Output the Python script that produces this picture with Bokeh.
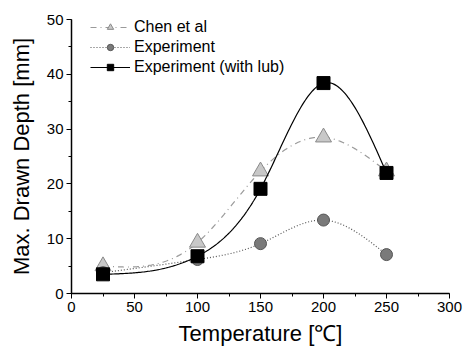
import numpy as np
from bokeh.plotting import figure
from bokeh.models import Legend, LegendItem, Range1d, FixedTicker
from bokeh.embed import file_html
from bokeh.resources import INLINE

temperature = [25, 100, 150, 200, 250]
chen = [5.0, 9.3, 22.3, 28.5, 22.3]
experiment = [3.8, 6.2, 9.1, 13.4, 7.1]
experiment_lub = [3.5, 6.8, 19.1, 38.4, 22.0]

x_ticks = [0, 50, 100, 150, 200, 250, 300]
y_ticks = [0, 10, 20, 30, 40, 50]


def natural_spline(x, y, n=200):
    x = np.asarray(x, float)
    y = np.asarray(y, float)
    k = len(x)
    h = np.diff(x)
    A = np.zeros((k, k))
    b = np.zeros(k)
    A[0, 0] = 1
    A[-1, -1] = 1
    for i in range(1, k - 1):
        A[i, i - 1] = h[i - 1]
        A[i, i] = 2 * (h[i - 1] + h[i])
        A[i, i + 1] = h[i]
        b[i] = 6 * ((y[i + 1] - y[i]) / h[i] - (y[i] - y[i - 1]) / h[i - 1])
    M = np.linalg.solve(A, b)
    xs = np.linspace(x[0], x[-1], n)
    ys = np.empty_like(xs)
    for j, xv in enumerate(xs):
        i = min(np.searchsorted(x, xv, side="right") - 1, k - 2)
        t1 = x[i + 1] - xv
        t0 = xv - x[i]
        ys[j] = (M[i] * t1 ** 3 + M[i + 1] * t0 ** 3) / (6 * h[i]) \
            + (y[i] / h[i] - M[i] * h[i] / 6) * t1 \
            + (y[i + 1] / h[i] - M[i + 1] * h[i] / 6) * t0
    return xs, ys


p = figure(width=466, height=348, output_backend="svg", toolbar_location=None,
           x_range=Range1d(0, 300), y_range=Range1d(0, 50))
p.min_border_left = 71
p.min_border_right = 17
p.min_border_top = 19
p.min_border_bottom = 54
p.outline_line_color = None
p.xgrid.visible = False
p.ygrid.visible = False
p.background_fill_color = "white"

FONT = "Liberation Sans"
for ax in (p.xaxis, p.yaxis):
    ax.axis_line_color = "black"
    ax.axis_line_width = 1.5
    ax.major_tick_line_color = "black"
    ax.minor_tick_line_color = "black"
    ax.major_tick_out = 5
    ax.major_tick_in = 0
    ax.minor_tick_out = 3
    ax.minor_tick_in = 0
    ax.major_label_standoff = 3
    ax.major_label_text_font = FONT
    ax.major_label_text_font_size = "15px"
    ax.major_label_text_color = "black"
    ax.axis_label_text_font = FONT
    ax.axis_label_text_font_style = "normal"
    ax.axis_label_text_color = "black"
    ax.axis_label_text_font_size = "22px"

p.xaxis.ticker = FixedTicker(ticks=x_ticks, minor_ticks=list(range(0, 301, 25)))
p.yaxis.ticker = FixedTicker(ticks=y_ticks, minor_ticks=list(range(0, 51, 5)))
p.xaxis.axis_label = "Temperature [℃]"
p.yaxis.axis_label = "Max. Drawn Depth [mm]"
p.xaxis.axis_label_standoff = 6
p.yaxis.axis_label_standoff = 10

xs, ys = natural_spline(temperature, chen)
l1 = p.line(xs, ys, line_color="#9a9a9a", line_width=1.2, line_dash="6 4 1 4")
m1 = p.scatter(temperature, chen, marker="triangle", size=16,
               fill_color="#c8c8c8", line_color="#8a8a8a", line_width=1)

xs, ys = natural_spline(temperature, experiment)
l2 = p.line(xs, ys, line_color="#555555", line_width=1.2, line_dash="1 2")
m2 = p.scatter(temperature, experiment, marker="circle", size=12,
               fill_color="#7a7a7a", line_color="#555555", line_width=1)

xs, ys = natural_spline(temperature, experiment_lub)
l3 = p.line(xs, ys, line_color="black", line_width=1.2)
m3 = p.scatter(temperature, experiment_lub, marker="square", size=13,
               fill_color="black", line_color="black")

legend = Legend(items=[
    LegendItem(label="Chen et al", renderers=[l1, m1]),
    LegendItem(label="Experiment", renderers=[l2, m2]),
    LegendItem(label="Experiment (with lub)", renderers=[l3, m3]),
])
legend.border_line_color = None
legend.background_fill_alpha = 0
legend.label_text_font = FONT
legend.label_text_font_size = "16px"
legend.label_text_color = "black"
legend.glyph_width = 40
legend.glyph_height = 16
legend.label_height = 16
legend.spacing = 2
legend.padding = 0
legend.margin = 0
legend.label_standoff = 4
legend.location = (19, 217)
p.add_layout(legend)

open("out.html", "w").write(file_html(p, INLINE))
